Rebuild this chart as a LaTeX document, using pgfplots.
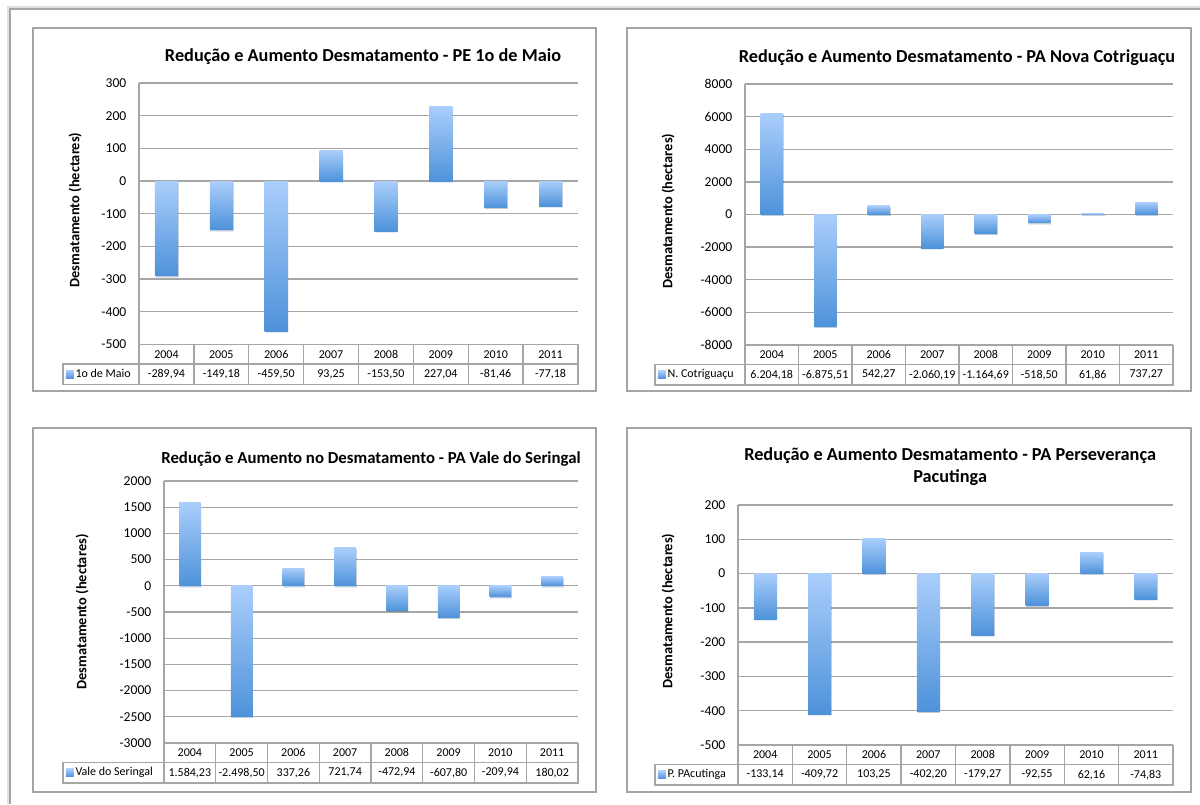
\documentclass[border=0pt]{standalone}
\usepackage{pgfplots}
\pgfplotsset{compat=1.18}
\usetikzlibrary{shadows}
\usepackage{fontspec}
\setmainfont{Carlito}

\definecolor{gridgray}{RGB}{166,166,166}
\definecolor{framegray}{RGB}{165,165,165}
\definecolor{bartop}{RGB}{170,206,251}
\definecolor{barbot}{RGB}{78,146,218}

\pgfplotsset{
  panel/.style={
    scale only axis,
    anchor=south west,
    clip=false,
    xmin=-0.5, xmax=7.5,
    xtick={0,...,7},
    xticklabels={2004,2005,2006,2007,2008,2009,2010,2011},
    x tick label style={anchor=center, yshift=-7.3pt, font=\fontsize{9}{10}\selectfont},
    extra x ticks={0,...,7},
    extra x tick style={x tick label style={yshift=-15pt}},
    ymajorgrids,
    grid style={gridgray, line width=1pt},
    axis x line*=bottom, axis y line*=left,
    axis line style={gridgray, line width=1pt, -},
    major tick length=0pt,
    y tick label style={font=\fontsize{10.2}{12}\selectfont, xshift=-6pt},
    /pgf/number format/assume math mode=true,
    /pgf/number format/1000 sep={},
    ylabel={Desmatamento (hectares)},
    ylabel style={font=\bfseries\fontsize{10.8}{13}\selectfont, anchor=center},
    title style={font=\bfseries\fontsize{13.7}{16.5}\selectfont, anchor=center, align=center},
    legend style={draw=none, fill=none, anchor=west, inner xsep=0pt, inner ysep=0pt,
      font=\fontsize{9}{10}\selectfont, nodes={inner xsep=1.2pt}},
  },
  % one bar per path, so that the gradient runs over each bar on its own
  gradbar/.style={
    ybar, bar width=0.42, bar shift=0pt, draw=none, forget plot,
    top color=bartop, bottom color=barbot,
    drop shadow={shadow xshift=0.5pt, shadow yshift=-0.9pt, fill=black, opacity=0.16},
  },
  gradkey/.style={
    draw=none,
    legend image code/.code={\path[draw=none, top color=bartop, bottom color=barbot] (0pt,-3pt) rectangle (6pt,3pt);},
  },
}

\newcommand{\gbar}[2]{\addplot[gradbar] coordinates {(#1,#2)};}

% table grid under each plot: #1 = width of the series-name cell
\newcommand{\datatable}[1]{%
  \pgfplotsinvokeforeach{0,0.125,0.25,0.375,0.5,0.625,0.75,0.875,1}{%
    \draw[gridgray, line width=1pt] (rel axis cs:##1,0) -- ++(0pt,-30pt);}
  \draw[gridgray, line width=1pt] ([xshift=-#1,yshift=-14.6pt]rel axis cs:0,0) rectangle ([yshift=-30pt]rel axis cs:1,0);
}

\begin{document}
\begin{tikzpicture}
\useasboundingbox[fill=white] (0pt,0pt) rectangle (900pt,603pt);
% page edge
\draw[black!12, line width=2pt] (6.2pt,0pt) -- (6.2pt,597.5pt) -- (900pt,597.5pt);
\draw[framegray, line width=1pt] (7.5pt,0pt) -- (7.5pt,596.25pt) -- (900pt,596.25pt);
% chart frames
\draw[framegray, line width=1.1pt] (24.75pt,309.75pt) rectangle (447pt,582pt);
\draw[framegray, line width=1.1pt] (470.25pt,309.75pt) rectangle (893.25pt,582pt);
\draw[framegray, line width=1.1pt] (24.75pt,9pt) rectangle (447pt,282pt);
\draw[framegray, line width=1.1pt] (470.25pt,9pt) rectangle (893.25pt,282pt);

% ---------- PE 1o de Maio ----------
\begin{axis}[panel,
  at={(104.25pt,344.625pt)}, width=329.25pt, height=196.125pt,
  ymin=-500, ymax=300, ytick distance=100,
  title={Redução e Aumento Desmatamento - PE 1o de Maio},
  title style={at={(axis description cs:0.5,1)}, xshift=3.4pt, yshift=13.5pt},
  ylabel style={at={([xshift=-48pt]axis description cs:0,0.514)}},
  extra x tick labels={{-289,94},{-149,18},{-459,50},{93,25},{-153,50},{227,04},{-81,46},{-77,18}},
  legend style={at={([xshift=-55pt,yshift=-22.3pt]rel axis cs:0,0)}},
]
\gbar{0}{-289.94} \gbar{1}{-149.18} \gbar{2}{-459.50} \gbar{3}{93.25}
\gbar{4}{-153.50} \gbar{5}{227.04}  \gbar{6}{-81.46}  \gbar{7}{-77.18}
\addlegendimage{gradkey}
\addlegendentry{1o de Maio}
\datatable{57pt}
\end{axis}

% ---------- PA Nova Cotriguaçu ----------
\begin{axis}[panel,
  at={(558.75pt,344.25pt)}, width=321pt, height=195.75pt,
  ymin=-8000, ymax=8000, ytick distance=2000,
  title={Redução e Aumento Desmatamento - PA Nova Cotriguaçu},
  title style={at={(axis description cs:0.5,1)}, xshift=-1.5pt, yshift=14pt},
  ylabel style={at={([xshift=-57.75pt]axis description cs:0,0.513)}},
  extra x tick labels={{6.204,18},{-6.875,51},{542,27},{-2.060,19},{-1.164,69},{-518,50},{61,86},{737,27}},
  legend style={at={([xshift=-65.5pt,yshift=-22.3pt]rel axis cs:0,0)}},
]
\gbar{0}{6204.18}  \gbar{1}{-6875.51} \gbar{2}{542.27} \gbar{3}{-2060.19}
\gbar{4}{-1164.69} \gbar{5}{-518.50}  \gbar{6}{61.86}  \gbar{7}{737.27}
\addlegendimage{gradkey}
\addlegendentry{N. Cotriguaçu}
\datatable{67.5pt}
\end{axis}

% ---------- PA Vale do Seringal ----------
\begin{axis}[panel,
  at={(123pt,45.75pt)}, width=310.5pt, height=196.5pt,
  ymin=-3000, ymax=2000, ytick distance=500,
  title={Redução e Aumento no Desmatamento - PA Vale do Seringal},
  title style={at={(axis description cs:0.5,1)}, yshift=10.5pt, font=\bfseries\fontsize{12.6}{15}\selectfont},
  ylabel style={at={([xshift=-61.5pt]axis description cs:0,0.5)}},
  extra x tick labels={{1.584,23},{-2.498,50},{337,26},{721,74},{-472,94},{-607,80},{-209,94},{180,02}},
  legend style={at={([xshift=-73.75pt,yshift=-22.3pt]rel axis cs:0,0)}},
]
\gbar{0}{1584.23} \gbar{1}{-2498.50} \gbar{2}{337.26}  \gbar{3}{721.74}
\gbar{4}{-472.94} \gbar{5}{-607.80}  \gbar{6}{-209.94} \gbar{7}{180.02}
\addlegendimage{gradkey}
\addlegendentry{Vale do Seringal}
\datatable{75.75pt}
\end{axis}

% ---------- PA Perseverança Pacutinga ----------
\begin{axis}[panel,
  at={(553.5pt,44.25pt)}, width=326.25pt, height=180pt,
  ymin=-500, ymax=200, ytick distance=100,
  title={Redução e Aumento Desmatamento - PA Perseverança\\Pacutinga},
  title style={at={(axis description cs:0.5,1)}, xshift=-4pt, yshift=22.5pt},
  ylabel style={at={([xshift=-52.5pt]axis description cs:0,0.558)}},
  extra x tick labels={{-133,14},{-409,72},{103,25},{-402,20},{-179,27},{-92,55},{62,16},{-74,83}},
  legend style={at={([xshift=-60.25pt,yshift=-22.3pt]rel axis cs:0,0)}},
]
\gbar{0}{-133.14} \gbar{1}{-409.72} \gbar{2}{103.25} \gbar{3}{-402.20}
\gbar{4}{-179.27} \gbar{5}{-92.55}  \gbar{6}{62.16}  \gbar{7}{-74.83}
\addlegendimage{gradkey}
\addlegendentry{P. PAcutinga}
\datatable{62.25pt}
\end{axis}
\end{tikzpicture}
\end{document}
